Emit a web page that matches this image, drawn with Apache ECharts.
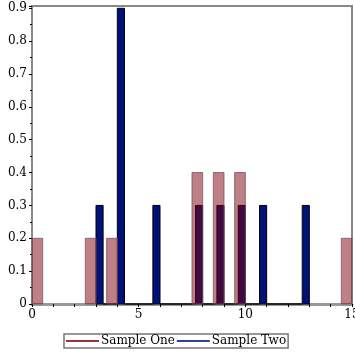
<!DOCTYPE html>
<html>
<head>
<meta charset="utf-8">
<script src="https://cdn.jsdelivr.net/npm/echarts@6/dist/echarts.min.js"></script>
<style>html,body{margin:0;padding:0;background:#fff}#c{width:355px;height:355px}</style>
</head>
<body>
<div id="c"></div>
<script>
// Sample One: density histogram, 30 bins of width 0.5 starting at 0
var oneStart = 0, oneWidth = 0.5;
var oneHeights = [0.2,0,0,0,0,0.2,0,0.2,0,0,0,0,0,0,0,0.4,0,0.4,0,0.4,0,0,0,0,0,0,0,0,0,0.2];
// Sample Two: density histogram, 30 bins of width 1/3 starting at 3
var twoStart = 3, twoWidth = 1/3;
var twoHeights = [0.3,0,0,0.9,0,0,0,0,0.3,0,0,0,0,0,0.3,0,0,0.3,0,0,0.3,0,0,0.3,0,0,0,0,0,0.3];
var seriesNames = ['Sample One', 'Sample Two'];
var xTicks = [0, 5, 10, 15];
var yTicks = [0, 0.1, 0.2, 0.3, 0.4, 0.5, 0.6, 0.7, 0.8, 0.9];
var yTop = 0.907;

function bins(start, width, heights) {
  return heights.map(function (h, i) { return [start + i * width, start + (i + 1) * width, h]; });
}

function makeRender(fill, stroke, skipZero) {
  return function (params, api) {
    var x0 = api.value(0), x1 = api.value(1), h = api.value(2);
    if (skipZero && h === 0) return null;
    var p0 = api.coord([x0, 0]);
    var p1 = api.coord([x1, h]);
    return {
      type: 'rect',
      shape: { x: p0[0], y: p1[1], width: p1[0] - p0[0], height: p0[1] - p1[1] },
      style: { fill: fill, stroke: stroke, lineWidth: 1 }
    };
  };
}

var chart = echarts.init(document.getElementById('c'), null, { renderer: 'canvas' });
var font = 'DejaVu Serif';
chart.setOption({
  animation: false,
  textStyle: { fontFamily: font },
  grid: { left: 32, right: 3, top: 6, bottom: 51, show: true, borderColor: '#888', borderWidth: 2,
    containLabel: false, outerBoundsMode: 'none' },
  xAxis: {
    type: 'value', min: xTicks[0], max: xTicks[xTicks.length - 1], interval: 5,
    axisLine: { show: true, lineStyle: { color: '#999', width: 3 } },
    axisTick: { show: true, length: 3, lineStyle: { color: '#000' } },
    minorTick: { show: true, splitNumber: 5, length: 3, lineStyle: { color: '#000' } },
    splitLine: { show: false },
    axisLabel: { color: '#000', fontFamily: font, fontSize: 12, margin: 5 }
  },
  yAxis: {
    type: 'value', min: yTicks[0], max: yTop, interval: 0.1,
    axisLine: { show: true, lineStyle: { color: '#888', width: 2 } },
    axisTick: { show: true, length: 3, lineStyle: { color: '#000' } },
    minorTick: { show: true, splitNumber: 2, length: 2, lineStyle: { color: '#000' } },
    splitLine: { show: false },
    axisLabel: { color: '#000', fontFamily: font, fontSize: 12, margin: 5, showMaxLabel: false,
      formatter: function (v) {
        if (yTicks.indexOf(Math.round(v * 10) / 10) < 0 || Math.abs(v * 10 - Math.round(v * 10)) > 1e-6) return '';
        return v === 0 ? '0' : v.toFixed(1);
      } }
  },
  legend: {
    left: 64, top: 334, orient: 'horizontal',
    padding: [1, 2, 1, 2], itemGap: 2, itemWidth: 33, itemHeight: 2, icon: 'rect',
    borderColor: '#777', borderWidth: 1.5,
    textStyle: { color: '#000', fontFamily: font, fontSize: 12, padding: [0, 0, 0, -3] },
    data: [
      { name: seriesNames[0], itemStyle: { color: '#a3303f' } },
      { name: seriesNames[1], itemStyle: { color: '#3040a0' } }
    ]
  },
  series: [
    {
      name: seriesNames[1], type: 'custom', z: 2, clip: false,
      itemStyle: { color: '#3040a0' },
      encode: { x: [0, 1], y: 2 },
      renderItem: makeRender('#00127a', '#000', false),
      data: bins(twoStart, twoWidth, twoHeights)
    },
    {
      name: seriesNames[0], type: 'custom', z: 3, clip: false,
      itemStyle: { color: '#a3303f' },
      encode: { x: [0, 1], y: 2 },
      renderItem: makeRender('rgba(128,0,12,0.5)', 'rgba(110,90,95,0.8)', true),
      data: bins(oneStart, oneWidth, oneHeights)
    }
  ]
});
</script>
</body>
</html>
